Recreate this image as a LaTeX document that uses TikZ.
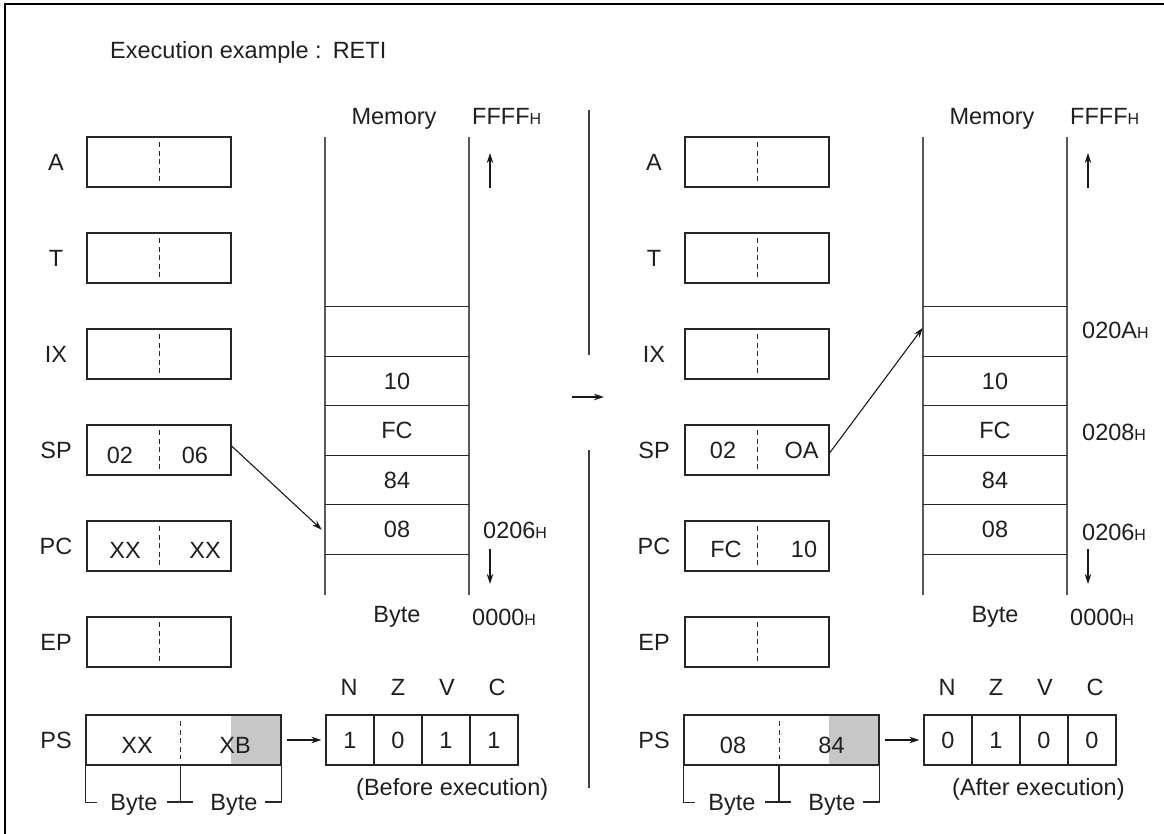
\documentclass[tikz,border=0pt]{standalone}
\usepackage{fontspec}
\setmainfont{Liberation Sans}
\usetikzlibrary{arrows.meta}
\newcommand\HH{{\fontsize{16}{16}\selectfont H}}
\tikzset{
  txt/.style={font=\fontsize{23.5}{28}\selectfont, text=black!88, inner sep=0pt},
  reg/.style={draw=black!85, line width=1.2pt, minimum width=144pt, minimum height=50pt, inner sep=0pt},
  psbox/.style={draw=black!85, line width=1.2pt, minimum width=195pt, minimum height=50pt, inner sep=0pt},
  graybox/.style={fill=black!22, minimum width=50pt, minimum height=50pt, inner sep=0pt},
  flagcell/.style={txt, draw=black!85, line width=1.2pt, minimum width=48pt, minimum height=50pt},
  cell/.style={txt, minimum width=144pt, minimum height=49.5pt},
  sepline/.style={draw=black!85, line width=1pt, dash pattern=on 5pt off 3.5pt},
  mline/.style={draw=black!65, line width=1.8pt},
  hline/.style={draw=black!85, line width=1.2pt},
  thin/.style={draw=black!85, line width=1.2pt},
  arr/.style={draw=black!90, line width=1.1pt, -{Stealth[length=10pt,width=6.5pt]}},
}
\begin{document}
\begin{tikzpicture}[x=1pt,y=-1pt]
\useasboundingbox (0,0) rectangle (1164,834);
% frame
\draw[line width=2.7pt] (5,834) -- (5,4) -- (1164,4);
% title
\node[txt, anchor=base west] (title) at (110,59) {Execution example :\hspace{11pt}RETI};
% middle separator and arrow
\draw[line width=1.3pt, draw=black!75] (589,110) -- (589,355);
\draw[line width=1.3pt, draw=black!75] (589,450) -- (589,788);
\coordinate (midA) at (572,397);
\coordinate (midB) at (604,397);
\draw[arr] (midA) -- (midB);

%================ LEFT (before) =================
% memory
\node[txt, anchor=base] (Lmem) at (394,125) {Memory};
\node[txt, anchor=base west] (Ltop) at (472,125) {FFFF\HH};
\draw[mline] (325,137) -- (325,595);
\draw[mline] (469,137) -- (469,595);
\node[cell] (Lc1) at (397,331.75) {};
\node[cell] (Lc2) at (397,381.25) {10};
\node[cell] (Lc3) at (397,430.75) {FC};
\node[cell] (Lc4) at (397,480.25) {84};
\node[cell] (Lc5) at (397,529.75) {08};
\foreach \c in {Lc1,Lc2,Lc3,Lc4,Lc5}{
  \draw[hline] (\c.north west) -- (\c.north east);
}
\draw[hline] (Lc5.south west) -- (Lc5.south east);
\node[txt, anchor=west] (Ladr) at (483,530) {0206\HH};
\coordinate (LupA) at (490,188);
\coordinate (LupB) at (490,153);
\draw[arr] (LupA) -- (LupB);
\coordinate (LdnA) at (490,549);
\coordinate (LdnB) at (490,584);
\draw[arr] (LdnA) -- (LdnB);
\node[txt] (Lbyte) at (397,617) {Byte};
\node[txt, anchor=west] (Lbot) at (472,617) {0000\HH};

% registers
\foreach \n/\l/\y in {A/A/162, T/T/258, IX/IX/354, SP/SP/450, PC/PC/546, EP/EP/642}{
  \node[reg] (L\n) at (159,\y) {};
  \node[txt] (L\n lab) at (56,\y) {\l};
  \draw[sepline] ([yshift=-6pt]L\n.north) -- ([yshift=6pt]L\n.south);
}
\node[txt] (LSPh) at (120,455) {02};
\node[txt] (LSPl) at (195,455) {06};
\node[txt] (LPCh) at (125,550) {XX};
\node[txt] (LPCl) at (205,550) {XX};

% PS
\node[txt] (LPSlab) at (56,740) {PS};
\node[graybox] (LPSg) at (256,740) {};
\node[psbox] (LPS) at (183.5,740) {};
\draw[sepline] (180.5,721) -- (180.5,759);
\node[txt] (LPSh) at (137,745) {XX};
\node[txt] (LPSl) at (235,745) {XB};
\draw[thin] (LPS.south west) -- ++(0,37) -- ++(12,0);
\draw[thin] (167,802) -- (193,802);
\draw[thin] (180.5,765) -- (180.5,802);
\draw[thin] (265,802) -- (LPS.south east |- 0,802) -- (LPS.south east);
\node[txt, anchor=base] (Lb1) at (134,810) {Byte};
\node[txt, anchor=base] (Lb2) at (234,810) {Byte};

% flags
\node[flagcell] (LN) at (350,740) {1};
\node[flagcell] (LZ) at (398,740) {0};
\node[flagcell] (LV) at (446,740) {1};
\node[flagcell] (LC) at (494,740) {1};
\node[txt] (LNl) at (349,687) {N};
\node[txt] (LZl) at (398,687) {Z};
\node[txt] (LVl) at (447,687) {V};
\node[txt] (LCl) at (497,687) {C};
\draw[arr] ([xshift=5pt]LPS.east) -- ([xshift=-4pt]LN.west);
\node[txt, anchor=west] (Lnote) at (356,789) {(Before execution)};

% SP pointer
\draw[arr] ([yshift=4pt]LSP.east) -- ([xshift=-3pt]Lc5.west);

%================ RIGHT (after) =================
\begin{scope}[xshift=598pt]
\node[txt, anchor=base] (Rmem) at (394,125) {Memory};
\node[txt, anchor=base west] (Rtop) at (472,125) {FFFF\HH};
\draw[mline] (325,137) -- (325,595);
\draw[mline] (469,137) -- (469,595);
\node[cell] (Rc1) at (397,331.75) {};
\node[cell] (Rc2) at (397,381.25) {10};
\node[cell] (Rc3) at (397,430.75) {FC};
\node[cell] (Rc4) at (397,480.25) {84};
\node[cell] (Rc5) at (397,529.75) {08};
\foreach \c in {Rc1,Rc2,Rc3,Rc4,Rc5}{
  \draw[hline] (\c.north west) -- (\c.north east);
}
\draw[hline] (Rc5.south west) -- (Rc5.south east);
\node[txt, anchor=west] (Radr1) at (484,330) {020A\HH};
\node[txt, anchor=west] (Radr2) at (484,432) {0208\HH};
\node[txt, anchor=west] (Radr3) at (484,532) {0206\HH};
\coordinate (RupA) at (490,188);
\coordinate (RupB) at (490,153);
\draw[arr] (RupA) -- (RupB);
\coordinate (RdnA) at (490,549);
\coordinate (RdnB) at (490,584);
\draw[arr] (RdnA) -- (RdnB);
\node[txt] (Rbyte) at (397,617) {Byte};
\node[txt, anchor=west] (Rbot) at (472,617) {0000\HH};

\foreach \n/\l/\y in {A/A/162, T/T/258, IX/IX/354, SP/SP/450, PC/PC/546, EP/EP/642}{
  \node[reg] (R\n) at (159,\y) {};
  \node[txt] (R\n lab) at (56,\y) {\l};
  \draw[sepline] ([yshift=-6pt]R\n.north) -- ([yshift=6pt]R\n.south);
}
\node[txt] (RSPh) at (125,450) {02};
\node[txt] (RSPl) at (203.5,450) {OA};
\node[txt] (RPCh) at (128,549) {FC};
\node[txt] (RPCl) at (206,549) {10};

\node[txt] (RPSlab) at (56,740) {PS};
\node[graybox] (RPSg) at (256,740) {};
\node[psbox] (RPS) at (183.5,740) {};
\draw[sepline] (181,721) -- (181,759);
\node[txt] (RPSh) at (135,745) {08};
\node[txt] (RPSl) at (233.5,745) {84};
\draw[thin] (RPS.south west) -- ++(0,37) -- ++(12,0);
\draw[thin] (167,802) -- (193,802);
\draw[thin] (181,765) -- (181,802);
\draw[thin] (265,802) -- (RPS.south east |- 0,802) -- (RPS.south east);
\node[txt, anchor=base] (Rb1) at (134,810) {Byte};
\node[txt, anchor=base] (Rb2) at (234,810) {Byte};

\node[flagcell] (RN) at (350,740) {0};
\node[flagcell] (RZ) at (398,740) {1};
\node[flagcell] (RV) at (446,740) {0};
\node[flagcell] (RC) at (494,740) {0};
\node[txt] (RNl) at (349,687) {N};
\node[txt] (RZl) at (398,687) {Z};
\node[txt] (RVl) at (447,687) {V};
\node[txt] (RCl) at (497,687) {C};
\draw[arr] ([xshift=5pt]RPS.east) -- ([xshift=-4pt]RN.west);
\node[txt, anchor=west] (Rnote) at (354,789) {(After execution)};

\draw[arr] ([yshift=-3pt]RSP.east) -- ([yshift=4pt]Rc1.west);
\end{scope}
\end{tikzpicture}
\end{document}
